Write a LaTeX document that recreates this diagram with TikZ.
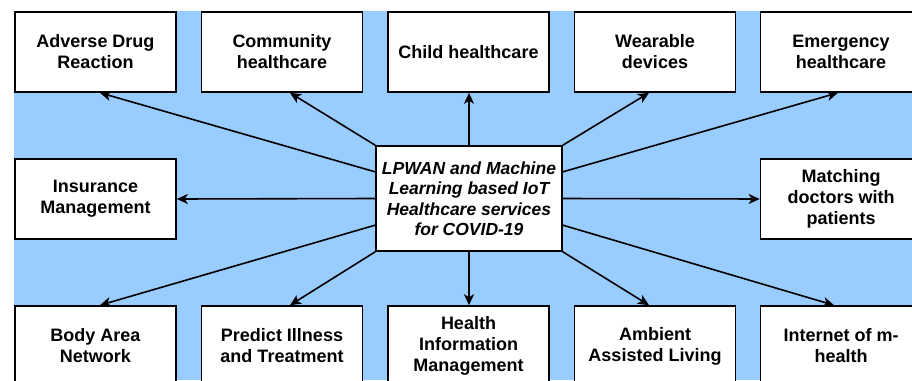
\documentclass[tikz,border=0pt]{standalone}
\usepackage{fontspec}
\setmainfont{Liberation Sans}
\usetikzlibrary{arrows.meta,calc}
\definecolor{bgblue}{HTML}{99CCFF}
\begin{document}
\begin{tikzpicture}[x=1pt,y=-1pt,
  box/.style={draw=black, line width=1.6pt, fill=white, minimum width=161pt,
    minimum height=80pt, align=center, inner sep=0pt,
    font=\bfseries\fontsize{18}{21}\selectfont},
  hubbox/.style={draw=black, line width=1.6pt, fill=white, minimum width=186pt,
    minimum height=105pt, align=center, inner sep=0pt,
    font=\bfseries\itshape\fontsize{17.5}{20.5}\selectfont},
  arr/.style={line width=1.6pt, -{Stealth[length=11pt,width=10pt,inset=3pt]}}]
\useasboundingbox (0,0) rectangle (912,380);
\clip (0,0) rectangle (912,380);
\fill[bgblue] (14,11) rectangle (912,380);

\node[box] (a1) at (95.5,52) {Adverse Drug\\Reaction};
\node[box] (a2) at (282,52) {Community\\healthcare};
\node[box] (a3) at (468.5,52) {Child healthcare};
\node[box] (a4) at (655,52) {Wearable\\devices};
\node[box] (a5) at (841,52) {Emergency\\healthcare};

\node[box] (m1) at (95.5,199) {Insurance\\Management};
\node[box] (m2) at (841,199) {Matching\\doctors with\\patients};

\node[box] (b1) at (95.5,346) {Body Area\\Network};
\node[box] (b2) at (282,346) {Predict Illness\\and Treatment};
\node[box] (b3) at (468.5,346) {Health\\Information\\Management};
\node[box] (b4) at (655,346) {Ambient\\Assisted Living};
\node[box] (b5) at (841,346) {Internet of m-\\health};

\node[hubbox] (c) at (469,198.5) {LPWAN and Machine\\Learning based IoT\\Healthcare services\\for COVID-19};

\coordinate (l1) at ($(c.north west)!0.25!(c.south west)$);
\coordinate (l3) at ($(c.north west)!0.75!(c.south west)$);
\coordinate (r1) at ($(c.north east)!0.25!(c.south east)$);
\coordinate (r3) at ($(c.north east)!0.75!(c.south east)$);

\draw[arr] (l1) -- ([xshift=4.5pt]a1.south);
\draw[arr] (c.north west) -- ([xshift=8pt]a2.south);
\draw[arr] (c.north) -- (c.north |- a3.south);
\draw[arr] (c.north east) -- ([xshift=-6pt]a4.south);
\draw[arr] (r1) -- ([xshift=-3pt]a5.south);

\draw[arr] (c.west) -- (m1.east);
\draw[arr] (c.east) -- (m2.west);

\draw[arr] (l3) -- ([xshift=4.5pt]b1.north);
\draw[arr] (c.south west) -- ([xshift=8pt]b2.north);
\draw[arr] (c.south) -- (c.south |- b3.north);
\draw[arr] (c.south east) -- ([xshift=-6pt]b4.north);
\draw[arr] (r3) -- ([xshift=-7pt]b5.north);
\end{tikzpicture}
\end{document}
